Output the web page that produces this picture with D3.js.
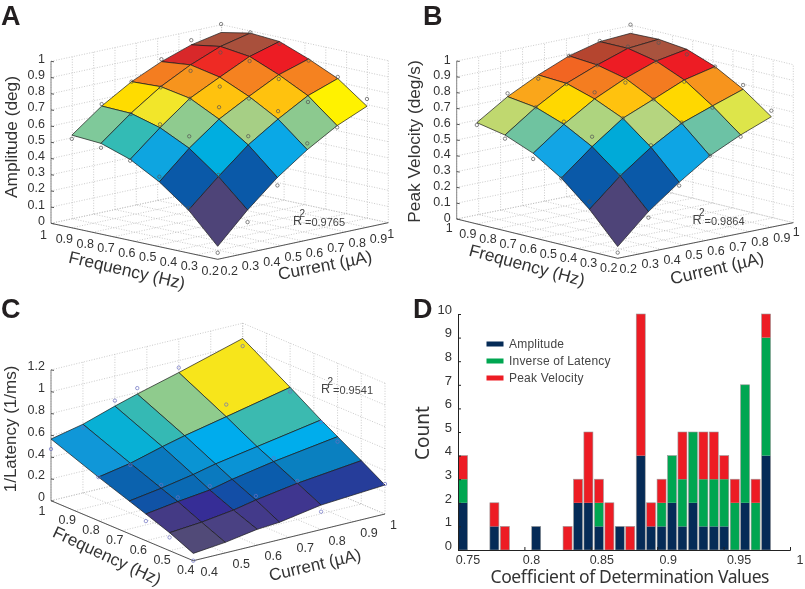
<!DOCTYPE html>
<html><head><meta charset="utf-8">
<script src="https://cdn.jsdelivr.net/npm/d3@7"></script>
<style>html,body{margin:0;padding:0;background:#fff}svg{display:block;filter:blur(.3px)}text{font-family:"Liberation Sans",Arial,sans-serif}</style>
</head><body><svg id="c" width="805" height="589"></svg>
<script>
// ---------- panel A ----------
const gridA = [0.2,0.34,0.48,0.62,0.76,0.9];
const ticksA = [0.2,0.3,0.4,0.5,0.6,0.7,0.8,0.9,1];
const zTicksA = [0,0.1,0.2,0.3,0.4,0.5,0.6,0.7,0.8,0.9,1];
const surfA = [
 [.08,.265,.426,.558,.667,.747],
 [.265,.432,.588,.708,.813,.879],
 [.40,.568,.708,.809,.903,.961],
 [.50,.656,.798,.889,.977,1.03],
 [.56,.706,.831,.926,1.0,1.043],
 [.572,.712,.823,.907,.971,1.008]];
const ptsA = [
 [.04,.19,.377,.597,.656,.792],
 [.276,.442,.642,.757,.774,.889],
 [.432,.642,.782,.796,.877,.951],
 [.492,.677,.796,.831,.949,1.016],
 [.533,.702,.827,.889,.963,1.047],
 [.549,.724,.823,.922,1.0,1.06]];
const cellsA = [
 ['#4e4478','#0a59a8','#0aa8e6','#8cc98f','#fff200'],
 ['#0a59a8','#00aee0','#a6cf85','#ffc20e','#f58220'],
 ['#0ea5e0','#8fcb8f','#ffc20e','#f58220','#ed1c24'],
 ['#33bbb5','#f2e62a','#f7941d','#ee2a24','#a9503c'],
 ['#7fc99a','#ffdc00','#f47d20','#d8282a','#a8503c']];
// ---------- panel B ----------
const surfB = [
 [.074,.256,.402,.531,.623,.699],
 [.266,.438,.58,.693,.763,.829],
 [.42,.58,.72,.801,.884,.929],
 [.534,.678,.799,.89,.96,.995],
 [.606,.742,.854,.931,.997,1.015],
 [.641,.766,.864,.945,.996,1.009]];
const ptsB = [
 [.036,.218,.381,.531,.612,.737],
 [.315,.442,.593,.697,.752,.856],
 [.419,.643,.72,.801,.873,.929],
 [.498,.695,.841,.863,.956,.963],
 [.583,.742,.85,.929,1.008,.993],
 [.626,.787,.84,.945,1.0,1.064]];
const cellsB = [
 ['#4e4478','#0a59a8','#0ea5e4','#6cc2a5','#dde54a'],
 ['#0a59a8','#00aad8','#b5d57f','#ffd800','#f7941d'],
 ['#12a5e5','#aed47f','#ffc20e','#f47b20','#ed1c24'],
 ['#6fc3a0','#ffd800','#f47d20','#ed1c24','#a9533e'],
 ['#c0d86f','#faa61a','#f26522','#b5452f','#a9533e']];
// ---------- panel C ----------
const gridC = [0.4,0.5,0.6,0.67,0.8,1];
const ticksC = [0.4,0.5,0.6,0.7,0.8,0.9,1];
const zTicksC = [0,0.2,0.4,0.6,0.8,1,1.2];
const surfC = [
 [.067,.097,.145,.16,.225,.266],
 [.165,.19,.23,.272,.333,.398],
 [.245,.287,.322,.37,.44,.526],
 [.30,.345,.40,.447,.513,.615],
 [.40,.455,.536,.587,.668,.795],
 [.566,.63,.725,.786,.89,1.06]];
const ptsC = [
 [0,null,null,null,.164,.275],
 [.122,null,null,.309,.354,null],
 [.18,.326,.358,null,.47,.48],
 [null,.375,null,null,null,.596],
 [.40,.44,null,null,.78,.755],
 [.474,.60,.775,.84,.935,.99]];
const cellsC = [
 ['#514a78','#4a4183','#433a8a','#3f368f','#263d9a'],
 ['#443a85','#362d96','#134ea6','#0b5cac','#0a80c0'],
 ['#1053a6','#0a6ab4','#0a7abf','#0a93d5','#00adec'],
 ['#0b62ae','#0a78be','#0a94d3','#00aced','#3bbab0'],
 ['#1097d8','#08b0d5','#35b9b4','#8fcb8d','#f7e51b']];
// ---------- panel D ----------
const binCenters = [.7538,.7617,.7696,.7774,.7853,.7932,.8010,.8089,.8168,.8246,.8325,.8404,.8482,.8561,.8640,.8718,.8797,.8876,.8954,.9033,.9112,.9190,.9269,.9348,.9426,.9505,.9584,.9662,.9741,.9820];
const countAmp = [2,0,0,1,0,0,0,1,0,0,0,2,2,1,0,1,0,4,1,1,2,1,2,1,1,1,0,2,0,4];
const countLat = [1,0,0,0,0,0,0,0,0,0,0,0,0,1,0,0,0,0,0,1,2,2,3,2,2,2,2,5,2,5];
const countVel = [1,0,0,1,1,0,0,0,0,0,1,1,3,1,2,0,1,6,1,1,0,2,0,2,2,1,1,0,1,1];
const seriesNames = ['Amplitude','Inverse of Latency','Peak Velocity'];
const seriesColors = ['#052b57','#00a651','#ed1c24'];
const xTicksD = [.75,.8,.85,.9,.95,1];
const xTickLabelsD = ['0.75','0.8','0.85','0.9','0.95','1'];
const xLabelShiftD = [10,7,11,11,15.5,10];
const yTicksD = [0,1,2,3,4,5,6,7,8,9,10];

const svg = d3.select('#c');
const fmt = d3.format('~g');

function panel(o){
  const g = svg.append('g');
  const cS = d3.scaleLinear().domain(o.axisDomain).range([0,1]);
  const fS = d3.scaleLinear().domain(o.axisDomain).range([0,1]);
  const zS = d3.scaleLinear().domain(o.zDomain).range([0,o.zHeight]);
  const P = (c,f,z)=>{
    const a=cS(c), b=fS(f);
    return [o.bottom[0]+a*(o.right[0]-o.bottom[0])+b*(o.left[0]-o.bottom[0]),
            o.bottom[1]+a*(o.right[1]-o.bottom[1])+b*(o.left[1]-o.bottom[1])-zS(z)];
  };
  const [lo,hi]=o.axisDomain, zTop=o.zDomain[1];
  const line=d3.line();
  const grid=(a,b)=>g.append('path').attr('d',line([a,b])).attr('fill','none')
     .attr('stroke','#b5b5b5').attr('stroke-width',.7).attr('stroke-dasharray','1 1.6');
  o.ticks.forEach(t=>{
    grid(P(t,lo,0),P(t,hi,0)); grid(P(lo,t,0),P(hi,t,0));
    grid(P(t,hi,0),P(t,hi,zTop)); grid(P(hi,t,0),P(hi,t,zTop));
  });
  o.zTicks.forEach(z=>{ grid(P(lo,hi,z),P(hi,hi,z)); grid(P(hi,hi,z),P(hi,lo,z)); });
  const ax=(a,b,col)=>g.append('path').attr('d',line([a,b])).attr('fill','none').attr('stroke',col).attr('stroke-width',1);
  ax(P(lo,hi,0),P(lo,hi,zTop),'#888');
  ax(P(lo,hi,0),P(lo,lo,0),'#555');
  ax(P(lo,lo,0),P(hi,lo,0),'#555');
  o.zTicks.forEach(z=>{
    const p=P(lo,hi,z);
    ax(p,[p[0]+3,p[1]+.5],'#555');
    g.append('text').attr('x',p[0]-6).attr('y',p[1]+4.5-o.zLabelShift).attr('text-anchor','end')
      .attr('font-size',o.tickSize).attr('fill','#333').text(fmt(z));
  });
  o.ticks.forEach((t,k)=>{
    const pc=P(t,lo,0), pf=P(lo,t,0);
    const last=k===o.ticks.length-1;
    const sc=last?o.cOffsetLast:o.cOffset, sf=last?o.fOffsetLast:o.fOffset;
    g.append('text').attr('x',pc[0]+sc[0]).attr('y',pc[1]+sc[1]+4.5).attr('text-anchor','middle')
      .attr('font-size',o.tickSize).attr('fill','#333').text(fmt(t));
    g.append('text').attr('x',pf[0]+sf[0]).attr('y',pf[1]+sf[1]+4.5).attr('text-anchor','middle')
      .attr('font-size',o.tickSize).attr('fill','#333').text(fmt(t));
  });
  const n=o.grid.length-1;
  for(let j=n-1;j>=0;j--) for(let i=n-1;i>=0;i--){
    const v=(ii,jj)=>P(o.grid[ii],o.grid[jj],o.surf[jj][ii]);
    g.append('path').attr('d',line([v(i,j),v(i+1,j),v(i+1,j+1),v(i,j+1)])+'Z')
      .attr('fill',o.cells[j][i]).attr('stroke','#1a1a1a').attr('stroke-width',.7).attr('stroke-linejoin','round');
  }
  o.pts.forEach((row,j)=>row.forEach((z,i)=>{
    if(z===null) return;
    const p=P(o.grid[i],o.grid[j],z);
    g.append('circle').attr('cx',p[0]).attr('cy',p[1]).attr('r',1.7).attr('fill','none')
      .attr('stroke',o.ptColor).attr('stroke-width',.7);
  }));
  const title=(t,x,y,rot,size)=>g.append('text').attr('transform',`translate(${x},${y}) rotate(${rot})`)
     .attr('text-anchor','middle').attr('dominant-baseline','central').attr('font-size',size).attr('fill','#333').text(t);
  title(o.zTitle,o.zTitlePos[0],o.zTitlePos[1],-90,o.titleSize);
  title('Frequency (Hz)',o.fTitle[0],o.fTitle[1],o.fTitle[2],o.titleSize);
  title('Current (\u00b5A)',o.cTitle[0],o.cTitle[1],o.cTitle[2],o.titleSize);
  const r=o.r2;
  g.append('text').attr('x',r[0]).attr('y',r[1]).attr('font-size',12.5).attr('fill','#444').text('R');
  g.append('text').attr('x',r[0]+6.5).attr('y',r[1]-8).attr('font-size',10).attr('fill','#444').text('2');
  g.append('text').attr('x',r[0]+12).attr('y',r[1]+1).attr('font-size',11).attr('fill','#444').text(o.r2Text);
  svg.append('text').attr('x',o.letter[0]).attr('y',o.letter[1]).attr('font-size',27).attr('font-weight','bold')
    .attr('fill','#231f20').text(o.letter[2]);
}

panel({grid:gridA,surf:surfA,pts:ptsA,cells:cellsA,ticks:ticksA,zTicks:zTicksA,axisDomain:[.2,1],zDomain:[0,1],zLabelShift:3,
  bottom:[217.7,259.3],left:[51,223.3],right:[388.3,222.7],zHeight:162,ptColor:'#555',tickSize:12.5,titleSize:17.3,
  cOffset:[11.5,11],cOffsetLast:[2.5,11],fOffset:[-7.5,10.7],fOffsetLast:[-7.5,11],
  zTitle:'Amplitude (deg)',zTitlePos:[10.5,137],fTitle:[127,270,13],cTitle:[325,265,-11],
  r2:[293,225],r2Text:'=0.9765',letter:[1,24.5,'A']});
panel({grid:gridA,surf:surfB,pts:ptsB,cells:cellsB,ticks:ticksA,zTicks:zTicksA,axisDomain:[.2,1],zDomain:[0,1],zLabelShift:2,
  bottom:[617.7,258.3],left:[456.7,219],right:[793.3,222.7],zHeight:158,ptColor:'#555',tickSize:12.5,titleSize:17.3,
  cOffset:[10.5,10],cOffsetLast:[3,9],fOffset:[-9,9.5],fOffsetLast:[-7.5,8.5],
  zTitle:'Peak Velocity (deg/s)',zTitlePos:[414,141.5],fTitle:[527,265,15],cTitle:[717,268,-13],
  r2:[692.5,224],r2Text:'=0.9864',letter:[423,24.5,'B']});
panel({grid:gridC,surf:surfC,pts:ptsC,cells:cellsC,ticks:ticksC,zTicks:zTicksC,axisDomain:[.4,1],zDomain:[0,1.2],zLabelShift:4,
  bottom:[193.3,560.7],left:[51,500.7],right:[385,514],zHeight:130.8,ptColor:'#6a6fc0',tickSize:12.5,titleSize:17,
  cOffset:[16,10.5],cOffsetLast:[8.5,10.5],fOffset:[-7.5,9],fOffsetLast:[-9,9.3],
  zTitle:'1/Latency (1/ms)',zTitlePos:[10.5,429],fTitle:[107,556,25],cTitle:[315,565,-13],
  r2:[321,393],r2Text:'=0.9541',letter:[1,318,'C']});

const gD = svg.append('g');
const xD = d3.scaleLinear().domain([.75,1]).range([458,790]);
const yD = d3.scaleLinear().domain([0,10]).range([550,314]);
const bw = 9;
const layers=[countAmp,countLat,countVel];
binCenters.forEach((c,k)=>{
  let acc=0;
  layers.forEach((arr,s)=>{
    if(arr[k]>0){
      gD.append('rect').attr('x',xD(c)-bw/2).attr('width',bw)
        .attr('y',yD(acc+arr[k])).attr('height',yD(acc)-yD(acc+arr[k]))
        .attr('fill',seriesColors[s]);
      acc+=arr[k];
    }
  });
  if(acc>0) gD.append('rect').attr('x',xD(c)-bw/2).attr('width',bw).attr('y',yD(acc)).attr('height',yD(0)-yD(acc))
     .attr('fill','none').attr('stroke','#9a9a9a').attr('stroke-width',.6);
});
const yAxis=gD.append('g').attr('transform','translate(458,0)').call(d3.axisLeft(yD).tickValues(yTicksD).tickFormat(fmt).tickSize(-3).tickPadding(6));
yAxis.selectAll('text').attr('font-size',13).attr('fill','#333').style('font-family','"Liberation Sans"').attr('dy','-0.05em');
yAxis.selectAll('line,path').attr('stroke','#222');
const xAxis=gD.append('g').attr('transform','translate(0,550)').call(d3.axisBottom(xD).tickValues(xTicksD).tickFormat('').tickSize(-3));
xAxis.selectAll('line,path').attr('stroke','#222');
xTicksD.forEach((t,k)=>gD.append('text').attr('x',xD(t)+xLabelShiftD[k]).attr('y',563.5).attr('text-anchor','middle')
   .attr('font-size',12.5).attr('fill','#333').text(xTickLabelsD[k]));
gD.append('text').attr('x',630).attr('y',583).attr('text-anchor','middle').attr('font-size',17.5)
  .style('font-family','"Noto Sans"').attr('fill','#333').attr('textLength',279).text('Coefficient of Determination Values');
gD.append('text').attr('transform','translate(429,433) rotate(-90)').attr('text-anchor','middle')
  .attr('font-size',19).style('font-family','"Noto Sans"').attr('fill','#333').text('Count');
seriesNames.forEach((n,i)=>{
  const y=344+i*17;
  gD.append('rect').attr('x',486.5).attr('y',y-2.5).attr('width',17).attr('height',5).attr('fill',seriesColors[i]);
  gD.append('text').attr('x',509).attr('y',y+3.5).attr('font-size',12).attr('fill','#444').attr('letter-spacing',.2).text(n);
});
svg.append('text').attr('x',413).attr('y',318).attr('font-size',27).attr('font-weight','bold').attr('fill','#231f20').text('D');
</script></body></html>
